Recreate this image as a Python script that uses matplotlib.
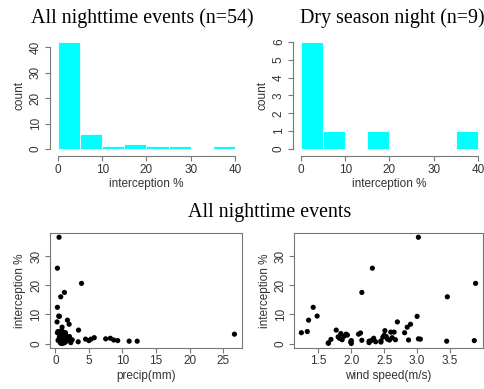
import numpy as np
import matplotlib
matplotlib.use("Agg")
import matplotlib.pyplot as plt

plt.rcParams['font.family'] = ['Liberation Sans', 'DejaVu Sans']

# histogram bins (interception %)
bin_edges = [0, 5, 10, 15, 20, 25, 30, 35, 40]
counts_all = [42, 6, 1, 2, 1, 1, 0, 1]
counts_dry = [6, 1, 0, 1, 0, 0, 0, 1]

# all nighttime events: interception %, precip (mm), wind speed (m/s)
intercept = [36.4, 25.8, 20.6, 17.5, 16.0, 12.4, 9.4, 9.3, 8.0, 7.4,
             6.6, 5.6, 4.6, 4.4, 4.1, 3.9, 3.9, 3.7, 3.7, 3.6,
             3.4, 3.2, 3.2, 2.9, 2.8, 2.5, 2.4, 2.3, 2.0, 1.8,
             1.8, 1.6, 1.5, 1.5, 1.4, 1.3, 1.3, 1.2, 1.2, 1.1,
             1.1, 1.0, 1.0, 0.9, 0.8, 0.8, 0.6, 0.5, 0.5, 0.3,
             0.1, 0.0, 0.2, 2.2]
precip = [0.55, 0.3, 3.9, 1.35, 0.8, 0.3, 0.5, 0.6, 1.8, 0.25,
          2.05, 1.0, 3.45, 0.9, 0.4, 1.2, 0.7, 0.3, 1.5, 0.9,
          1.1, 26.7, 0.8, 1.3, 1.6, 1.0, 2.1, 0.6, 5.8, 1.4,
          8.2, 7.5, 4.5, 5.3, 1.9, 0.9, 2.5, 8.7, 0.5, 1.7,
          0.4, 5.0, 9.3, 1.2, 11.0, 12.2, 3.4, 0.7, 1.5, 2.3,
          0.8, 1.0, 1.3, 0.9]
wind = [3.02, 2.32, 3.89, 2.16, 3.46, 1.42, 1.48, 3.00, 1.35, 2.70,
        2.90, 2.85, 1.77, 2.51, 1.33, 2.60, 2.65, 1.24, 2.81, 2.14,
        1.84, 2.11, 1.92, 1.94, 2.50, 1.89, 2.53, 1.80, 2.62, 2.34,
        1.82, 3.02, 3.05, 2.55, 1.69, 1.86, 2.67, 2.87, 2.58, 2.16,
        2.31, 3.87, 2.00, 2.45, 3.45, 2.27, 2.37, 1.99, 2.45, 2.27,
        1.65, 2.00, 1.65, 2.48]

axis_col = '#777777'
txt_col = '#333333'
fs = 8.5

fig = plt.figure(figsize=(4.85, 3.89), dpi=100)


def r_style(ax, box=False):
    for s in ['top', 'right']:
        ax.spines[s].set_visible(box)
    for s in ax.spines.values():
        s.set_color(axis_col)
        s.set_linewidth(0.8)
    ax.tick_params(colors=axis_col, labelcolor=txt_col, labelsize=fs,
                   length=3.5, width=0.8, pad=2)
    for lab in ax.get_yticklabels():
        lab.set_rotation(90)
        lab.set_va('center')


def hist_panel(rect, counts, yticks):
    ax = fig.add_axes(rect)
    edges = np.array(bin_edges)
    ax.bar(edges[:-1], counts, width=5, align='edge',
           color='#00ffff', edgecolor='white', linewidth=0.6)
    ax.set_xlim(-1.6, 41.6)
    top = max(counts)
    ax.set_ylim(-0.04 * top, top * 1.04)
    ax.set_xticks([0, 10, 20, 30, 40])
    ax.set_yticks(yticks)
    ax.spines['bottom'].set_bounds(0, 40)
    ax.spines['left'].set_bounds(yticks[0], yticks[-1])
    ax.spines['bottom'].set_position(('outward', 2))
    ax.spines['left'].set_position(('outward', 1))
    ax.set_xlabel('interception %', fontsize=fs, color=txt_col, labelpad=2)
    ax.set_ylabel('count', fontsize=fs, color=txt_col, labelpad=3)
    r_style(ax)
    return ax


hist_panel([0.105, 0.606, 0.394, 0.297], counts_all, [0, 10, 20, 30, 40])
hist_panel([0.606, 0.606, 0.394, 0.297], counts_dry, [0, 1, 2, 3, 4, 5, 6])


def scatter_panel(rect, x, xlabel, xticks):
    ax = fig.add_axes(rect)
    ax.scatter(x, intercept, s=14, color='black', edgecolors='none')
    ax.margins(0.04)
    ax.set_xticks(xticks)
    ax.set_yticks([0, 10, 20, 30])
    ax.set_xlabel(xlabel, fontsize=fs, color=txt_col, labelpad=2)
    ax.set_ylabel('interception %', fontsize=fs, color=txt_col, labelpad=3)
    r_style(ax, box=True)
    return ax


scatter_panel([0.103, 0.106, 0.395, 0.295], precip, 'precip(mm)',
              [0, 5, 10, 15, 20, 25])
scatter_panel([0.607, 0.106, 0.388, 0.295], wind, 'wind speed(m/s)',
              [1.5, 2.0, 2.5, 3.0, 3.5])

title_font = dict(family='Liberation Serif', fontsize=14.4, color='black',
                  ha='center', va='center')
fig.text(142 / 485, 1 - 18 / 389, 'All nighttime events (n=54)', **title_font)
fig.text(392 / 485, 1 - 18 / 389, 'Dry season night (n=9)', **title_font)
fig.text(270 / 485, 1 - 213 / 389, 'All nighttime events', **title_font)

fig.savefig('out.png', dpi=100)
